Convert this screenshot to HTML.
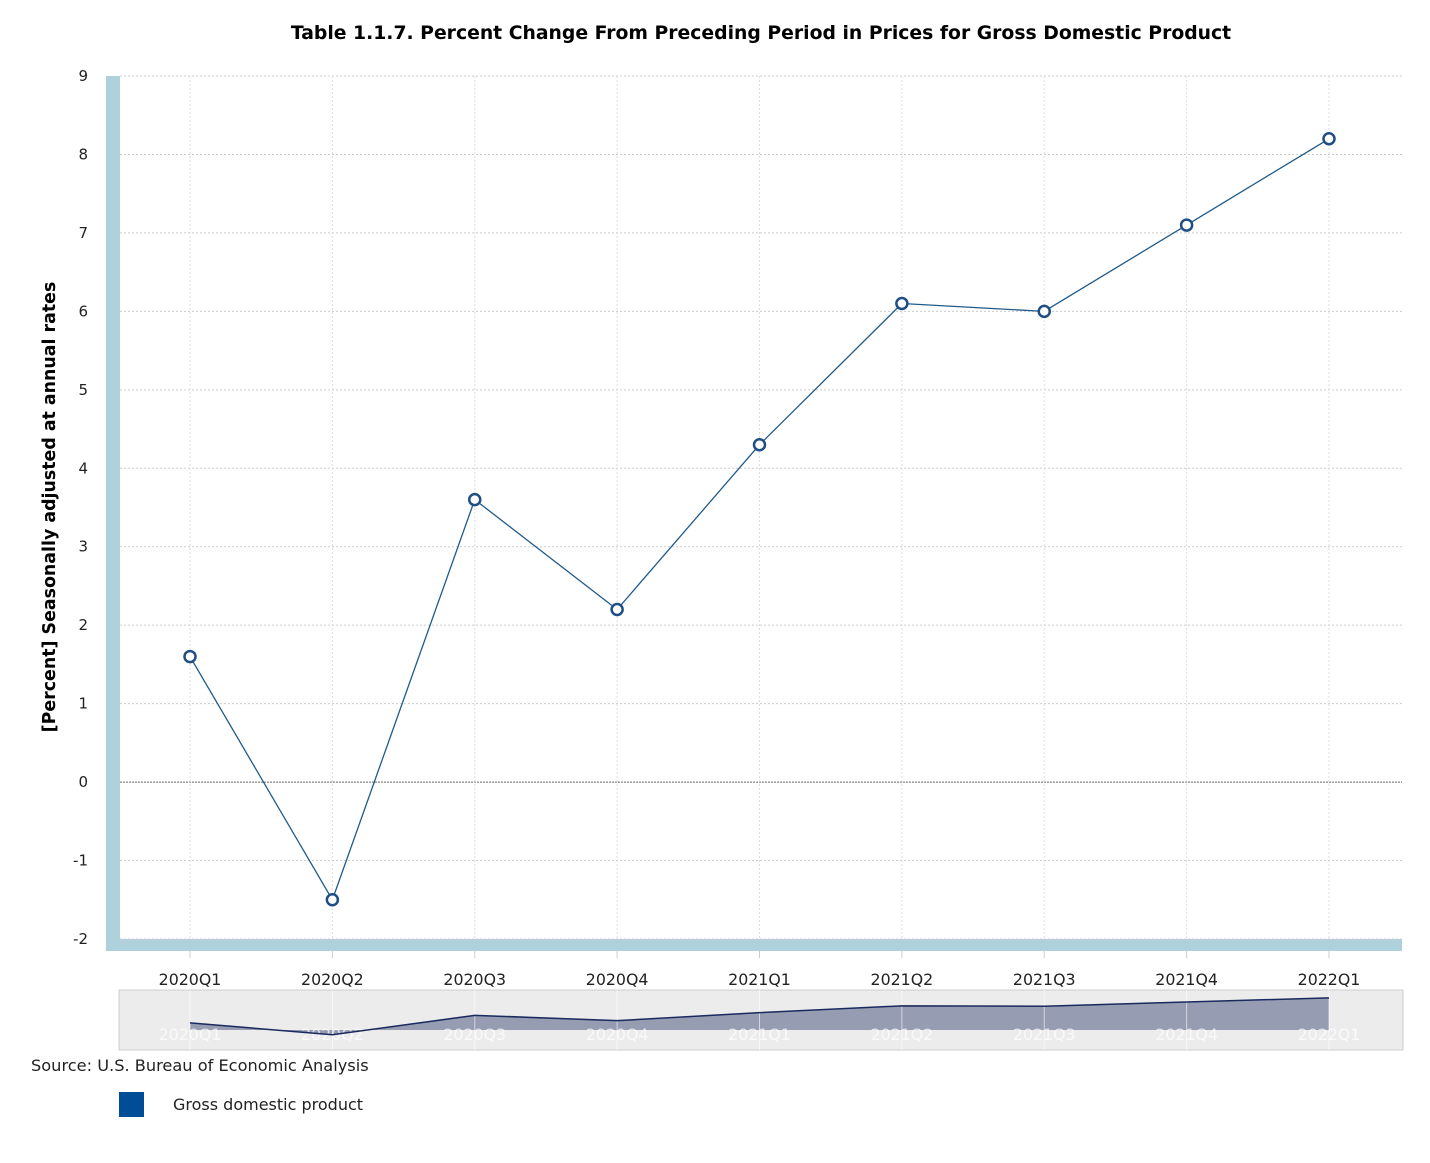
<!DOCTYPE html>
<html><head><meta charset="utf-8"><style>
body{margin:0;background:#fff;font-family:"DejaVu Sans","Liberation Sans",sans-serif;}
svg text{font-family:"DejaVu Sans","Liberation Sans",sans-serif;}
</style></head><body>
<svg id="c" width="1430" height="1159">
<text x="761" y="39" text-anchor="middle" font-size="18.8" font-weight="bold" fill="#000">Table 1.1.7. Percent Change From Preceding Period in Prices for Gross Domestic Product</text>
<text transform="translate(55,507) rotate(-90)" text-anchor="middle" font-size="17.4" font-weight="bold" fill="#000">[Percent] Seasonally adjusted at annual rates</text>
<rect x="106" y="76" width="14" height="875" fill="#aed1dc"/>
<rect x="120" y="939" width="1282" height="12" fill="#aed1dc"/>
<g id="grid"></g><g id="series"></g>
<rect x="119" y="990" width="1284" height="60" fill="#ececec" stroke="#ccc"/>
<g id="nav"></g>
<text x="31" y="1071" font-size="16.2" fill="#222">Source: U.S. Bureau of Economic Analysis</text>
<rect x="119" y="1092" width="25" height="25" fill="#004c97"/>
<text x="173" y="1110" font-size="16" fill="#222">Gross domestic product</text>
</svg>
<script>
const categories=["2020Q1","2020Q2","2020Q3","2020Q4","2021Q1","2021Q2","2021Q3","2021Q4","2022Q1"];
const values=[1.6,-1.5,3.6,2.2,4.3,6.1,6.0,7.1,8.2];
const yTicks=[-2,-1,0,1,2,3,4,5,6,7,8,9];
const NS="http://www.w3.org/2000/svg";
const x=i=>190+i*(1329-190)/(categories.length-1);
const y=v=>76+(9-v)*(939-76)/11;
const ny=v=>1029-v*3.8;
function mk(t,a,p){const e=document.createElementNS(NS,t);for(const k in a)e.setAttribute(k,a[k]);p.appendChild(e);return e;}
const g=document.getElementById('grid'),s=document.getElementById('series'),n=document.getElementById('nav');
yTicks.forEach(v=>{
 const l=mk('line',{x1:120,x2:1402,y1:y(v),y2:y(v),stroke:v===0?'#666':'#ccc','stroke-dasharray':v===0?'2,1':'2,2'},g);
 
 
 const t=mk('text',{x:88,y:y(v)+5,'text-anchor':'end','font-size':15,fill:'#222'},g);t.textContent=v;
 
 
});
categories.forEach((c,i)=>{
 const l=mk('line',{x1:x(i),x2:x(i),y1:76,y2:939,stroke:'#ddd','stroke-dasharray':'2,2'},g);
 
 
 const tk=mk('line',{x1:x(i),x2:x(i),y1:951,y2:958,stroke:'#ccc'},g);
 
 
 const t=mk('text',{x:x(i),y:985,'text-anchor':'middle','font-size':15.8,fill:'#222'},g);t.textContent=c;
 
 
});
const pl=mk('polyline',{points:values.map((v,i)=>x(i)+','+y(v)).join(' '),fill:'none',stroke:'#1f5a8a','stroke-width':1.3},s);


values.forEach((v,i)=>{
 const c=mk('circle',{cx:x(i),cy:y(v),r:5.5,fill:'#fff',stroke:'#1f4e84','stroke-width':2.5},s);
 
 
});
const pts=values.map((v,i)=>x(i)+','+ny(v));
const ar=mk('polygon',{points:x(0)+',1030 '+pts.join(' ')+' '+x(values.length-1)+',1030',fill:'#8d93ab',opacity:0.9},n);


categories.forEach((c,i)=>{
 const l=mk('line',{x1:x(i),x2:x(i),y1:990,y2:1050,stroke:'#fff','stroke-opacity':0.6},n);
 
 
 const t=mk('text',{x:x(i),y:1040,'text-anchor':'middle','font-size':15.8,fill:'#fff','fill-opacity':0.7},n);t.textContent=c;
 
 
});
const nl=mk('polyline',{points:pts.join(' '),fill:'none',stroke:'#1b2a5e','stroke-width':1.5},n);


</script>
</body></html>
